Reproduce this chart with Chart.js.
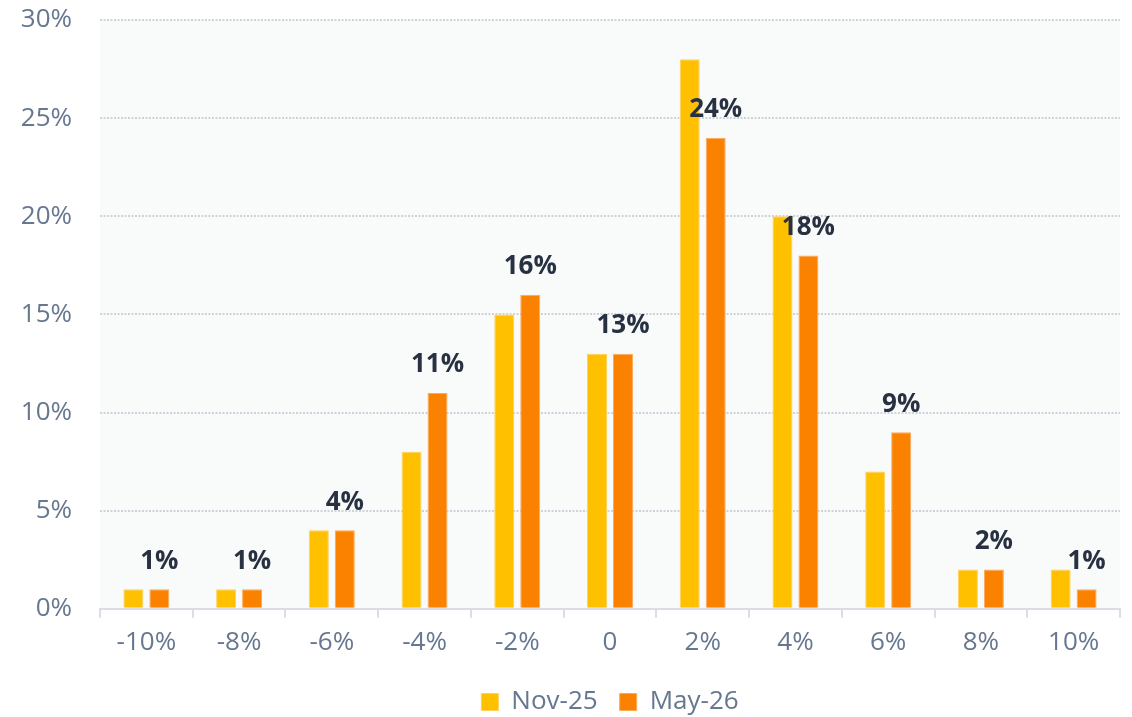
<!DOCTYPE html>
<html>
<head>
<meta charset="utf-8">
<script src="https://cdn.jsdelivr.net/npm/chart.js@4.4.1/dist/chart.umd.min.js"></script>
<style>
  html, body { margin: 0; padding: 0; background: #ffffff; }
  #wrap { width: 1132px; height: 717px; position: relative; }
</style>
</head>
<body>
<div id="wrap"><canvas id="chart" width="1132" height="717"></canvas></div>
<script>
// Distribution buckets and the share of responses in each
const categories = ['-10%', '-8%', '-6%', '-4%', '-2%', '0', '2%', '4%', '6%', '8%', '10%'];
const seriesNames = ['Nov-25', 'May-26'];
const nov25 = [1, 1, 4, 8, 15, 13, 28, 20, 7, 2, 2];
const may26 = [1, 1, 4, 11, 16, 13, 24, 18, 9, 2, 1];
const yTicks = [0, 5, 10, 15, 20, 25, 30];

const FONT = '"Open Sans", "Noto Sans", sans-serif';
const TICK_COLOR = '#66778f';

// Light panel behind the plot area
const plotBackground = {
  id: 'plotBackground',
  beforeDraw(chart) {
    const { ctx, chartArea: a } = chart;
    ctx.save();
    ctx.fillStyle = '#f9fafa';
    ctx.fillRect(a.left, a.top, a.right - a.left, a.bottom - a.top);
    ctx.restore();
  }
};

// Value labels above the May-26 bars
const valueLabels = {
  id: 'valueLabels',
  afterDatasetsDraw(chart) {
    const { ctx } = chart;
    const meta = chart.getDatasetMeta(1);
    const values = chart.data.datasets[1].data;
    ctx.save();
    ctx.font = 'bold 26px ' + FONT;
    ctx.fillStyle = '#273142';
    ctx.textAlign = 'center';
    ctx.textBaseline = 'middle';
    meta.data.forEach((bar, i) => {
      ctx.fillText(values[i] + '%', bar.x, bar.y - 28);
    });
    ctx.restore();
  }
};

new Chart(document.getElementById('chart'), {
  type: 'bar',
  data: {
    labels: categories,
    datasets: [
      {
        label: seriesNames[0],
        data: nov25,
        backgroundColor: '#ffc000',
        borderColor: '#ffd060',
        borderWidth: 1,
        categoryPercentage: 0.56,
        barPercentage: 0.77
      },
      {
        label: seriesNames[1],
        data: may26,
        backgroundColor: '#fa8200',
        borderColor: '#fcaa5a',
        borderWidth: 1,
        categoryPercentage: 0.56,
        barPercentage: 0.77
      }
    ]
  },
  options: {
    responsive: false,
    animation: false,
    layout: { padding: { left: 0, right: 12, top: 0, bottom: -8 } },
    plugins: {
      tooltip: { enabled: false },
      legend: {
        position: 'bottom',
        fullSize: false,
        labels: {
          boxWidth: 17,
          boxHeight: 17,
          padding: 22,
          color: TICK_COLOR,
          font: { family: FONT, size: 26 }
        }
      }
    },
    scales: {
      x: {
        offset: true,
        grid: {
          display: true,
          drawOnChartArea: false,
          drawTicks: true,
          tickLength: 9,
          color: '#dadde3',
          lineWidth: 2,
          offset: true
        },
        border: { display: true, color: '#dadde3', width: 2 },
        ticks: {
          color: TICK_COLOR,
          font: { family: FONT, size: 26 },
          padding: 9
        }
      },
      y: {
        min: 0,
        max: 30,
        afterBuildTicks(scale) {
          scale.ticks = yTicks.map(v => ({ value: v }));
        },
        afterFit(scale) {
          scale.width = 100;
          scale.paddingTop = 20;
          scale.paddingBottom = 0;
        },
        grid: {
          color: '#cfd2dc',
          lineWidth: 2,
          drawTicks: false
        },
        border: { display: false, dash: [2, 1.5] },
        ticks: {
          color: TICK_COLOR,
          font: { family: FONT, size: 26 },
          padding: 28,
          callback: v => v + '%'
        }
      }
    }
  },
  plugins: [plotBackground, valueLabels]
});
</script>
</body>
</html>
